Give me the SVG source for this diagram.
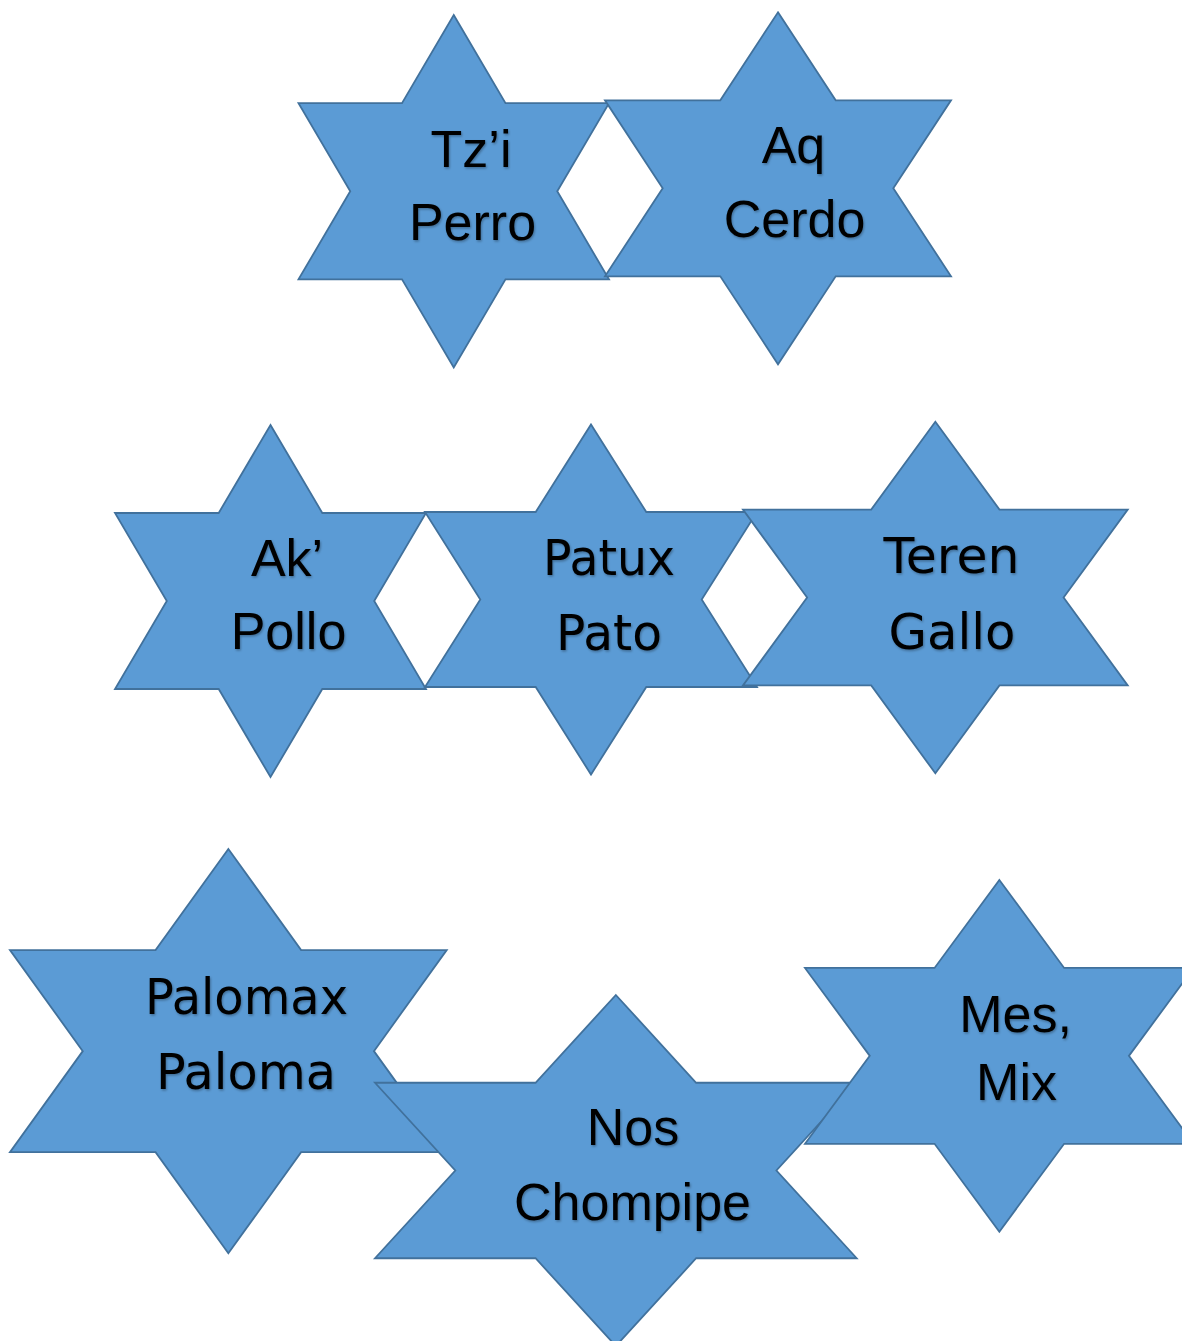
<svg xmlns="http://www.w3.org/2000/svg" width="1182" height="1341" viewBox="0 0 1182 1341">
  <style>
    .star { fill: #5B9BD5; stroke: #41719C; stroke-width: 1.8; stroke-linejoin: miter; }
    .lbl { fill: #000; font-family: "Liberation Sans", Arial, sans-serif; font-size: 52px; text-anchor: middle; filter: url(#txtShadow); }
    .hum { font-family: "DejaVu Sans", "Open Sans", sans-serif; font-size: 49px; }
  </style>
  <defs>
    <filter id="txtShadow" x="-10%" y="-30%" width="120%" height="160%">
      <feDropShadow dx="1" dy="1.5" stdDeviation="1" flood-color="#000" flood-opacity="0.3"/>
    </filter>
  </defs>
  <rect width="1182" height="1341" fill="#fff"/>

  <g id="connectors"/>

  <!-- Row 1 -->
  <g id="node-tzi">
    <polygon class="star" points="453.75,15 505.5,103.1 609,103.1 557.25,191.25 609,279.4 505.5,279.4 453.75,367.5 402,279.4 298.5,279.4 350.25,191.25 298.5,103.1 402,103.1"/>
    <text class="lbl" x="471" y="166.5">Tz’i</text>
    <text class="lbl" x="472.5" y="240">Perro</text>
  </g>
  <g id="node-aq">
    <polygon class="star" points="778,12.3 835.7,100.3 951,100.3 893.3,188.3 951,276.3 835.7,276.3 778,364.3 720.3,276.3 605,276.3 662.7,188.3 605,100.3 720.3,100.3"/>
    <text class="lbl" x="793.5" y="162.5">Aq</text>
    <text class="lbl" x="794.5" y="236.5">Cerdo</text>
  </g>

  <!-- Row 2 -->
  <g id="node-ak">
    <polygon class="star" points="270.5,425 322.3,513 426,513 374.2,601 426,689 322.3,689 270.5,777 218.7,689 115,689 166.8,601 115,513 218.7,513"/>
    <text class="lbl" x="287" y="575.5">Ak’</text>
    <text class="lbl" x="288.5" y="649">Pollo</text>
  </g>
  <g id="node-patux">
    <polygon class="star" points="591,424.5 646.3,512 757,512 701.7,599.5 757,687 646.3,687 591,774.5 535.7,687 425,687 480.3,599.5 425,512 535.7,512"/>
    <text class="lbl hum" x="609" y="574.5" textLength="132" lengthAdjust="spacingAndGlyphs">Patux</text>
    <text class="lbl hum" x="609" y="650" textLength="106" lengthAdjust="spacingAndGlyphs">Pato</text>
  </g>
  <g id="node-teren">
    <polygon class="star" points="935.35,421.7 999.47,509.6 1127.7,509.6 1063.58,597.5 1127.7,685.4 999.47,685.4 935.35,773.3 871.23,685.4 743,685.4 807.12,597.5 743,509.6 871.23,509.6"/>
    <text class="lbl hum" x="951.5" y="572.5" textLength="136" lengthAdjust="spacingAndGlyphs">Teren</text>
    <text class="lbl hum" x="952" y="648.5" textLength="127" lengthAdjust="spacingAndGlyphs">Gallo</text>
  </g>

  <!-- Row 3 -->
  <g id="node-palomax">
    <polygon class="star" points="228.35,849 301.13,950.1 446.7,950.1 373.92,1051.15 446.7,1152.2 301.13,1152.2 228.35,1253.3 155.57,1152.2 10,1152.2 82.78,1051.15 10,950.1 155.57,950.1"/>
    <text class="lbl hum" x="246.5" y="1013.5" textLength="203" lengthAdjust="spacingAndGlyphs">Palomax</text>
    <text class="lbl hum" x="246" y="1089" textLength="180" lengthAdjust="spacingAndGlyphs">Paloma</text>
  </g>
  <g id="node-nos">
    <polygon class="star" points="615.85,995 696.13,1082.75 856.7,1082.75 776.42,1170.5 856.7,1258.25 696.13,1258.25 615.85,1346 535.57,1258.25 375,1258.25 455.28,1170.5 375,1082.75 535.57,1082.75"/>
    <text class="lbl" x="633" y="1145">Nos</text>
    <text class="lbl" x="632.5" y="1219.5">Chompipe</text>
  </g>
  <g id="node-mes">
    <polygon class="star" points="999.35,880 1064.13,967.93 1193.7,967.93 1128.92,1055.85 1193.7,1143.78 1064.13,1143.78 999.35,1231.7 934.57,1143.78 805,1143.78 869.78,1055.85 805,967.93 934.57,967.93"/>
    <text class="lbl" x="1015.5" y="1031.5">Mes,</text>
    <text class="lbl" x="1016.5" y="1099.5">Mix</text>
  </g>
</svg>
